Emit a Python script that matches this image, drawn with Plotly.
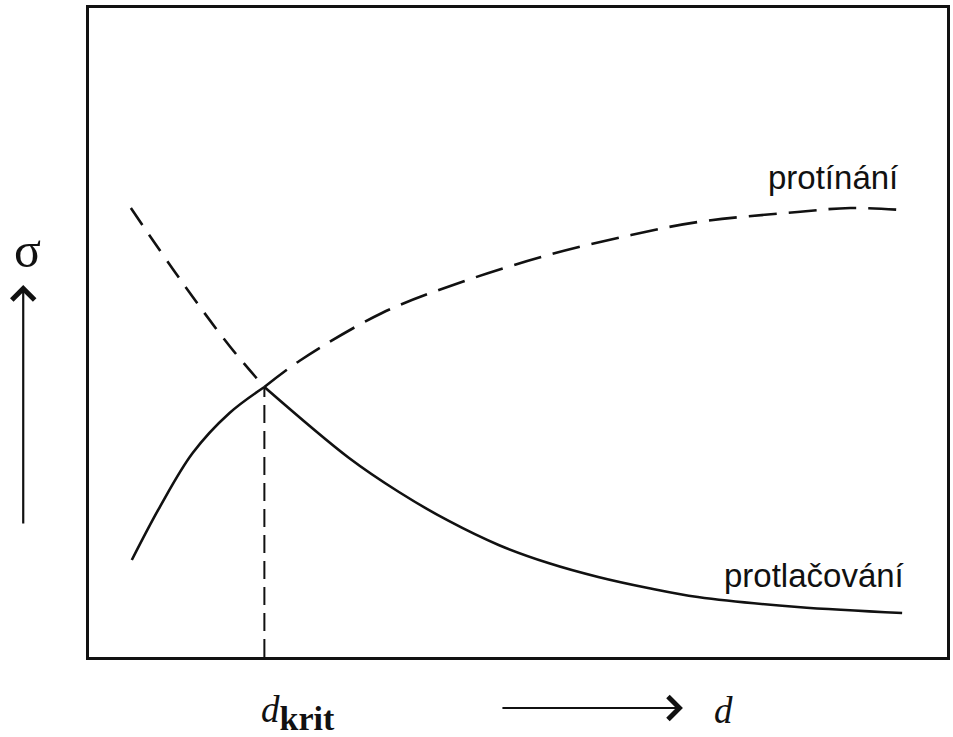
import plotly.graph_objects as go

# Curve "protínání" (rising): solid part up to d_krit, dashed afterwards
protinani_solid_x = [4.99, 8.25, 12.08, 16.38, 20.44]
protinani_solid_y = [14.95, 23.11, 31.43, 37.60, 41.60]
protinani_dash_x = [20.44, 24.51, 34.15, 43.44, 53.54, 63.18, 70.96, 82.58, 88.73, 94.77]
protinani_dash_y = [41.60, 45.61, 53.00, 57.78, 61.94, 65.02, 67.03, 68.57, 69.18, 68.87]

# Curve "protlačování" (falling): dashed part up to d_krit, solid afterwards
protlac_dash_x = [4.88, 10.92, 16.38, 20.44]
protlac_dash_y = [69.18, 57.63, 47.92, 41.60]
protlac_solid_x = [20.44, 30.31, 36.12, 41.93, 47.74, 53.54, 59.35, 65.16, 70.96, 82.58, 94.77]
protlac_solid_y = [41.60, 30.66, 25.42, 20.96, 17.26, 14.48, 12.33, 10.63, 9.24, 7.70, 6.78]

d_krit = 20.44
sigma_krit = 41.60

fig = go.Figure()
line_w = 2.6
black = "#111111"

fig.add_trace(go.Scatter(x=protinani_solid_x, y=protinani_solid_y, mode="lines",
                         line=dict(color=black, width=line_w, shape="spline")))
fig.add_trace(go.Scatter(x=protinani_dash_x, y=protinani_dash_y, mode="lines",
                         line=dict(color=black, width=line_w, shape="spline", dash="28px,12px")))
fig.add_trace(go.Scatter(x=protlac_dash_x, y=protlac_dash_y, mode="lines",
                         line=dict(color=black, width=line_w, shape="spline", dash="20px,12px")))
fig.add_trace(go.Scatter(x=protlac_solid_x, y=protlac_solid_y, mode="lines",
                         line=dict(color=black, width=line_w, shape="spline")))
fig.add_trace(go.Scatter(x=[d_krit, d_krit], y=[0, sigma_krit], mode="lines",
                         line=dict(color=black, width=2, dash="18px,8px")))

sans = "Liberation Sans, Arial, sans-serif"
serif = "Liberation Serif, Times New Roman, serif"


def px(xp):
    return (xp - 89) / 861


def py(yp):
    return (657 - yp) / 649


annotations = [
    dict(x=px(836), y=py(177), xref="paper", yref="paper", xanchor="center", yanchor="middle",
         text="protínání", showarrow=False, font=dict(family=sans, size=33, color=black)),
    dict(x=px(817), y=py(575), xref="paper", yref="paper", xanchor="center", yanchor="middle",
         text="protlačování", showarrow=False, font=dict(family=sans, size=33, color=black)),
    dict(x=px(27), y=py(250), xref="paper", yref="paper", xanchor="center", yanchor="middle",
         text="σ", showarrow=False, font=dict(family=serif, size=50, color=black)),
    dict(x=d_krit, y=py(713), xref="x", yref="paper", xanchor="left", yanchor="middle", xshift=-5,
         text="<i>d</i><sub><span style='font-size:34px'><b>krit</b></span></sub>", showarrow=False,
         font=dict(family=serif, size=37, color=black)),
    dict(x=px(726), y=py(710), xref="paper", yref="paper", xanchor="center", yanchor="middle",
         text="<i>d</i>", showarrow=False, font=dict(family=serif, size=37, color=black)),
    # arrows
    dict(x=px(23), y=py(285), xref="paper", yref="paper",
         ax=0, ay=240, showarrow=True, arrowhead=4, arrowsize=2.0, arrowwidth=2.2,
         arrowcolor=black, text=""),
    dict(x=px(685), y=py(708), xref="paper", yref="paper",
         ax=-182, ay=0, showarrow=True, arrowhead=4, arrowsize=2.0, arrowwidth=2.2,
         arrowcolor=black, text=""),
]

fig.update_layout(
    width=953, height=737,
    margin=dict(l=89, r=3, t=8, b=80),
    paper_bgcolor="white", plot_bgcolor="white",
    showlegend=False,
    annotations=annotations,
    xaxis=dict(range=[0, 100], showgrid=False, zeroline=False, showticklabels=False,
               ticks="", showline=True, mirror=True, linecolor=black, linewidth=3),
    yaxis=dict(range=[0, 100], showgrid=False, zeroline=False, showticklabels=False,
               ticks="", showline=True, mirror=True, linecolor=black, linewidth=3),
)

fig.write_html("out.html", config={"displayModeBar": False},
               post_script="document.body.style.margin='0';document.body.style.overflow='hidden';")
